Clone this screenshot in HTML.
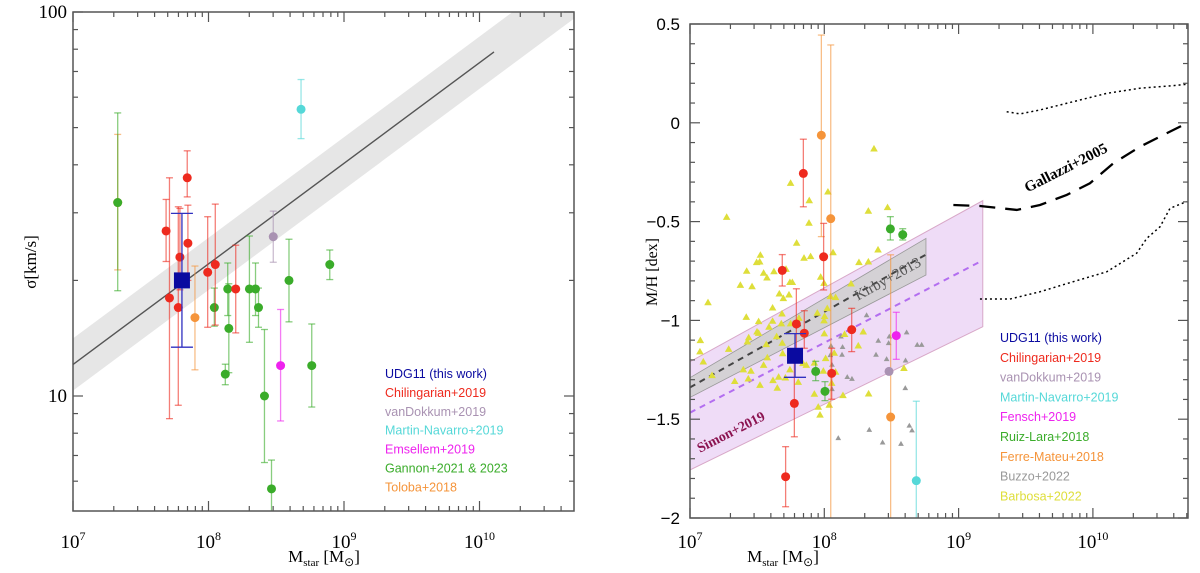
<!DOCTYPE html>
<html><head><meta charset="utf-8">
<style>
html,body{margin:0;padding:0;background:#fff;}
svg{display:block;}
.lg{font-family:"Liberation Sans",sans-serif;font-size:12.5px;}
.sr{font-family:"Liberation Serif",serif;}
.ss{font-family:"Liberation Sans",sans-serif;}
</style></head>
<body>
<svg id="fig" width="1200" height="573" viewBox="0 0 1200 573" xmlns="http://www.w3.org/2000/svg"></svg>
<script>
// ---------- LEFT PANEL DATA (log10 Mstar, sigma km/s) ----------
const lRedM=[7.687,7.712,7.777,7.789,7.843,7.848,7.994,8.05,8.201];
const lRedS=[26.9,18.0,17.0,23.0,37.0,25.0,21.0,22.0,19.0];
const lRedHi=[32.5,37.0,31.1,30.8,43.5,31.4,29.3,31.6,24.7];
const lRedLo=[22.4,8.73,9.46,18.9,33.0,20.0,15.1,15.3,14.6];
const lGreenM=[7.33,8.043,8.142,8.15,8.124,8.302,8.347,8.369,8.413,8.465,8.594,8.762,8.895];
const lGreenS=[31.9,17.0,19.0,15.0,11.4,19.0,19.0,17.0,10.0,5.73,20.0,12.0,22.0];
const lGreenHi=[54.6,19.1,22.2,19.6,12.1,26.1,22.2,19.1,14.9,6.81,25.6,15.4,24.0];
const lGreenLo=[18.8,15.2,16.2,11.5,10.7,13.8,16.2,15.1,6.71,4.48,15.6,9.36,20.1];
const lOrangeM=[7.9,7.33];
const lOrangeS=[16.0,31.9];
const lOrangeHi=[21.8,48.0];
const lOrangeLo=[11.7,21.3];
const lPurpleM=[8.478], lPurpleS=[26.0], lPurpleHi=[30.3], lPurpleLo=[22.3];
const lCyanM=[8.683], lCyanS=[55.8], lCyanHi=[66.7], lCyanLo=[46.8];
const lMagM=[8.532], lMagS=[12.0], lMagHi=[16.8], lMagLo=[8.61];
const lUdgM=[7.804], lUdgS=[20.0], lUdgHi=[29.9], lUdgLo=[13.4];
const lRelation=[1.082,0.262,0.068,10.107]; // intercept at logM=7, slope, band half-width, end logM
const lXTicks=["7","8","9","10"];
const lYTicks=[10,100];
// ---------- RIGHT PANEL DATA (log10 Mstar, [M/H]) ----------
const rRedM=[7.844,7.995,7.687,7.792,7.851,8.204,8.055,7.777,7.712];
const rRedV=[-0.256,-0.678,-0.747,-1.018,-1.065,-1.047,-1.268,-1.420,-1.791];
const rRedHi=[-0.083,-0.509,-0.667,-0.840,-0.951,-0.939,-1.141,-1.200,-1.639];
const rRedLo=[-0.425,-0.846,-0.826,-1.2,-1.141,-1.158,-1.399,-1.589,-1.943];
const rGreenM=[8.492,8.584,7.936,8.005];
const rGreenV=[-0.537,-0.566,-1.258,-1.359];
const rGreenHi=[-0.475,-0.536,-1.207,-1.310];
const rGreenLo=[-0.593,-0.593,-1.305,-1.406];
const rOrangeM=[7.978,8.048,8.494];
const rOrangeV=[-0.063,-0.485,-1.489];
const rOrangeHi=[0.444,0.394,-0.668];
const rOrangeLo=[-0.576,-2.1,-2.1];
const rMagM=[8.536], rMagV=[-1.077], rMagHi=[-0.959], rMagLo=[-1.197];
const rPurpleM=[8.482], rPurpleV=[-1.258];
const rCyanM=[8.685], rCyanV=[-1.811], rCyanHi=[-1.409], rCyanLo=[-2.1];
const rUdgM=[7.782], rUdgV=[-1.179], rUdgHi=[-1.067], rUdgLo=[-1.288];
const rYellowM=[8.370,7.749,8.027,7.888,7.273,7.886,8.328,8.471,7.794,7.849,7.898,7.524,7.496,7.519,8.065,8.400,8.258,8.328,7.422,7.548,7.573,7.625,7.715,7.973,7.998,7.744,7.762,7.375,7.462,8.199,7.665,7.695,7.737,7.134,8.045,8.084,8.022,7.615,7.685,7.811,8.002,7.998,7.419,7.511,7.615,7.680,7.749,7.948,7.588,7.499,7.511,7.437,7.427,7.645,8.000,8.151,8.290,7.077,7.288,7.074,7.099,7.568,7.687,7.777,8.010,7.841,7.576,7.690,7.866,7.926,8.074,8.084,7.397,7.454,7.548,7.744,7.164,7.333,7.434,7.521,7.618,7.660,7.710,7.650,7.806,7.993,8.055,8.253,7.926,8.139,8.330,7.955,7.968,8.037,8.593];
const rYellowV=[-0.132,-0.306,-0.350,-0.394,-0.478,-0.508,-0.447,-0.429,-0.609,-0.685,-0.677,-0.670,-0.707,-0.704,-0.657,-0.643,-0.707,-0.704,-0.751,-0.761,-0.785,-0.753,-0.741,-0.781,-0.812,-0.808,-0.808,-0.822,-0.829,-0.815,-0.866,-0.889,-0.871,-0.910,-0.879,-0.884,-0.940,-0.937,-0.967,-0.989,-0.980,-1.002,-0.984,-1.006,-1.004,-1.017,-1.017,-0.963,-1.034,-1.058,-1.065,-1.088,-1.109,-1.082,-1.068,-1.071,-1.058,-1.102,-1.146,-1.159,-1.210,-1.122,-1.115,-1.159,-1.193,-1.218,-1.189,-1.168,-1.227,-1.216,-1.166,-1.262,-1.250,-1.257,-1.227,-1.250,-1.279,-1.309,-1.296,-1.328,-1.304,-1.287,-1.291,-1.343,-1.313,-1.257,-1.318,-1.129,-1.373,-1.380,-1.372,-1.439,-1.479,-1.429,-1.243];
const rGrayM=[8.050,8.136,8.132,8.045,8.124,8.315,8.402,8.484,8.479,8.613,8.692,8.725,8.385,8.464,8.605,8.171,8.206,8.057,8.057,8.603,8.633,8.653,8.335,8.434,8.571,8.104];
const rGrayV=[-1.129,-1.135,-1.174,-1.176,-1.082,-0.974,-1.103,-1.082,-1.115,-1.061,-1.124,-1.124,-1.174,-1.196,-1.203,-1.287,-1.296,-1.225,-1.348,-1.343,-1.533,-1.557,-1.554,-1.618,-1.625,-1.596];
const simonBandM=[7,9.18,9.18,7];
const simonBandV=[-1.209,-0.394,-1.032,-1.757];
const simonLineM=[7,9.16], simonLineV=[-1.467,-0.703];
const kirbyBandM=[7,8.757,8.757,7];
const kirbyBandV=[-1.29,-0.585,-0.770,-1.39];
const kirbyLineM=[7,8.752], kirbyLineV=[-1.339,-0.669];
const gallMidM=[8.961,9.159,9.433,9.606,9.805,9.978,10.152,10.351,10.549,10.698];
const gallMidV=[-0.416,-0.421,-0.441,-0.416,-0.365,-0.306,-0.205,-0.121,-0.053,-0.003];
const gallUpM=[9.358,9.457,9.606,9.854,10.103,10.351,10.599,10.698];
const gallUpV=[0.056,0.045,0.065,0.107,0.149,0.175,0.188,0.195];
const gallLoM=[9.159,9.382,9.606,9.854,10.103,10.326,10.401,10.500,10.574,10.698];
const gallLoV=[-0.892,-0.892,-0.855,-0.804,-0.754,-0.660,-0.585,-0.526,-0.433,-0.399];
const rYTicks=["0.5","0","−0.5","−1","−1.5","−2"];
const rYVals=[0.5,0,-0.5,-1,-1.5,-2];

// ---------- helpers ----------
const NS="http://www.w3.org/2000/svg";
const fig=document.getElementById('fig');
function el(tag,attrs,parent){const e=document.createElementNS(NS,tag);for(const k in attrs)e.setAttribute(k,attrs[k]);(parent||fig).appendChild(e);return e;}
const L={x0:73,x1:574,y0:12,y1:511};
function lx(m){return 73+(m-7)*135.5;}
function ly(s){return 396-(Math.log10(s)-1)*384;}
const R={x0:690,x1:1188,y0:24,y1:518};
function rx(m){return 690+(m-7)*134.3;}
function ry(v){return 24+(0.5-v)*197.6;}

const defs=el('defs',{});
const cpL=el('clipPath',{id:'cpL'},defs);el('rect',{x:L.x0,y:L.y0,width:L.x1-L.x0,height:L.y1-L.y0},cpL);
const cpR=el('clipPath',{id:'cpR'},defs);el('rect',{x:R.x0,y:R.y0,width:R.x1-R.x0,height:R.y1-R.y0},cpR);

// ===== LEFT PANEL =====
const gL=el('g',{'clip-path':'url(#cpL)'});


{
 const [a,b,w,mEnd]=lRelation;
 const mA=6.8,mB=11;
 const yA=a+b*(mA-7),yB=a+b*(mB-7);
 const band=el('polygon',{points:`${lx(mA)},${ly(10**(yA+w))} ${lx(mB)},${ly(10**(yB+w))} ${lx(mB)},${ly(10**(yB-w))} ${lx(mA)},${ly(10**(yA-w))}`,fill:'#e6e6e6'},gL);
 
 
 const ln=el('line',{x1:lx(mA),y1:ly(10**yA),x2:lx(mEnd),y2:ly(10**(a+b*(mEnd-7))),stroke:'#555','stroke-width':1.4},gL);
 
 
}
function errL(parent,m,s,hi,lo,col,name){
 const g=el('g',{},parent);
 
 
 const x=lx(m);
 el('line',{x1:x,y1:ly(hi),x2:x,y2:ly(lo),stroke:col,'stroke-width':1.3,opacity:0.6},g);
 el('line',{x1:x-3.5,y1:ly(hi),x2:x+3.5,y2:ly(hi),stroke:col,'stroke-width':1.3,opacity:0.6},g);
 el('line',{x1:x-3.5,y1:ly(lo),x2:x+3.5,y2:ly(lo),stroke:col,'stroke-width':1.3,opacity:0.6},g);
 el('circle',{cx:x,cy:ly(s),r:4.5,fill:col},g);
}
lOrangeM.forEach((m,i)=>errL(gL,m,lOrangeS[i],lOrangeHi[i],lOrangeLo[i],'#f5943a','toloba-point'));
lGreenM.forEach((m,i)=>errL(gL,m,lGreenS[i],lGreenHi[i],lGreenLo[i],'#3aac2a','gannon-point'));
lRedM.forEach((m,i)=>errL(gL,m,lRedS[i],lRedHi[i],lRedLo[i],'#ee2a1e','chilingarian-point'));
lPurpleM.forEach((m,i)=>errL(gL,m,lPurpleS[i],lPurpleHi[i],lPurpleLo[i],'#a992b2','vandokkum-point'));
lCyanM.forEach((m,i)=>errL(gL,m,lCyanS[i],lCyanHi[i],lCyanLo[i],'#55d8d8','martin-navarro-point'));
lMagM.forEach((m,i)=>errL(gL,m,lMagS[i],lMagHi[i],lMagLo[i],'#ee22ee','emsellem-point'));
lUdgM.forEach((m,i)=>{
 const g=el('g',{},gL);
 
 
 const x=lx(m);
 el('line',{x1:x,y1:ly(lUdgHi[i]),x2:x,y2:ly(lUdgLo[i]),stroke:'#3030c0','stroke-width':1.3},g);
 el('line',{x1:x-11,y1:ly(lUdgHi[i]),x2:x+11,y2:ly(lUdgHi[i]),stroke:'#3030c0','stroke-width':1.3},g);
 el('line',{x1:x-11,y1:ly(lUdgLo[i]),x2:x+11,y2:ly(lUdgLo[i]),stroke:'#3030c0','stroke-width':1.3},g);
 el('rect',{x:x-8,y:ly(lUdgS[i])-8,width:16,height:16,fill:'#0a0aa0'},g);
});
const fL=el('rect',{x:L.x0,y:L.y0,width:L.x1-L.x0,height:L.y1-L.y0,fill:'none',stroke:'#555','stroke-width':1.5});


for(let d=7;d<=10;d++){for(let k=1;k<10;k++){const m=d+Math.log10(k);const x=lx(m);if(x>L.x1)continue;const len=k===1?10:5;
 el('line',{x1:x,y1:L.y1,x2:x,y2:L.y1-len,stroke:'#555','stroke-width':1.2});
 el('line',{x1:x,y1:L.y0,x2:x,y2:L.y0+len,stroke:'#555','stroke-width':1.2});}}
for(let v=5;v<=100;v+=(v<10?1:10)){const y=ly(v);if(y<L.y0-0.5||y>L.y1)continue;const len=(v===10||v===100)?10:5;
 el('line',{x1:L.x0,y1:y,x2:L.x0+len,y2:y,stroke:'#555','stroke-width':1.2});
 el('line',{x1:L.x1,y1:y,x2:L.x1-len,y2:y,stroke:'#555','stroke-width':1.2});}
lXTicks.forEach(t=>{const tx=el('text',{x:lx(+t),y:548,'text-anchor':'middle',class:'sr','font-size':19});
 
 
 tx.innerHTML=`10<tspan dy="-8" font-size="12">${t}</tspan>`;});
lYTicks.forEach(t=>{const tx=el('text',{x:L.x0-6,y:ly(t)+6,'text-anchor':'end',class:'sr','font-size':19});
 
 
 tx.textContent=t;});
{
 const t=el('text',{x:324,y:562,'text-anchor':'middle',class:'sr','font-size':17});
 
 
 t.innerHTML='M<tspan dy="4" font-size="11">star</tspan><tspan dy="-4"> [M</tspan><tspan dy="4" font-size="12">⊙</tspan><tspan dy="-4">]</tspan>';
 const t2=el('text',{x:0,y:0,'text-anchor':'middle',class:'sr','font-size':17,transform:'translate(36,262) rotate(-90)'});
 
 
 t2.textContent='σ[km/s]';
}
const lLegT=["UDG11 (this work)","Chilingarian+2019","vanDokkum+2019","Martin-Navarro+2019","Emsellem+2019","Gannon+2021 & 2023","Toloba+2018"];
const lLegC=['#0a0aa0','#ee2a1e','#a992b2','#55d8d8','#ee22ee','#3aac2a','#f5943a'];
lLegT.forEach((s,i)=>{const t=el('text',{x:385,y:378+i*18.9,fill:lLegC[i],class:'lg'});
 
 
 t.textContent=s;});

// ===== RIGHT PANEL =====
const gR=el('g',{'clip-path':'url(#cpR)'});


function pts(M,V){return M.map((m,i)=>rx(m)+','+ry(V[i])).join(' ');}
{
 const sb=el('polygon',{points:pts(simonBandM,simonBandV),fill:'#efdcf7',stroke:'#d8a8c8','stroke-width':1},gR);
 
 
 const kb=el('polygon',{points:pts(kirbyBandM,kirbyBandV),fill:'#cfcfcf',stroke:'#999','stroke-width':0.8,'fill-opacity':0.85},gR);
 
 
 const sl=el('polyline',{points:pts(simonLineM,simonLineV),fill:'none',stroke:'#b36ef0','stroke-width':2,'stroke-dasharray':'6,5'},gR);
 
 
 const kl=el('polyline',{points:pts(kirbyLineM,kirbyLineV),fill:'none',stroke:'#444','stroke-width':2,'stroke-dasharray':'6,5'},gR);
 
 
 const gm=el('polyline',{points:pts(gallMidM,gallMidV),fill:'none',stroke:'#000','stroke-width':2.3,'stroke-dasharray':'16,10'},gR);
 
 
 const gu=el('polyline',{points:pts(gallUpM,gallUpV),fill:'none',stroke:'#000','stroke-width':1.5,'stroke-dasharray':'2,3'},gR);
 
 
 const gl=el('polyline',{points:pts(gallLoM,gallLoV),fill:'none',stroke:'#000','stroke-width':1.5,'stroke-dasharray':'2,3'},gR);
 
 
}
function tri(m,v,col,s,name){const x=rx(m),y=ry(v);
 const p=el('polygon',{points:`${x},${y-s} ${x-s*0.95},${y+s*0.65} ${x+s*0.95},${y+s*0.65}`,fill:col},gR);
 
 }
rGrayM.forEach((m,i)=>tri(m,rGrayV[i],'#999',3,'buzzo-point'));
rYellowM.forEach((m,i)=>tri(m,rYellowV[i],'#dede3a',4,'barbosa-point'));
function errR(m,v,hi,lo,col,name){
 const g=el('g',{},gR);
 
 
 const x=rx(m);
 if(hi!==null){
 el('line',{x1:x,y1:ry(hi),x2:x,y2:ry(lo),stroke:col,'stroke-width':1.3,opacity:0.6},g);
 el('line',{x1:x-3.5,y1:ry(hi),x2:x+3.5,y2:ry(hi),stroke:col,'stroke-width':1.3,opacity:0.6},g);
 el('line',{x1:x-3.5,y1:ry(lo),x2:x+3.5,y2:ry(lo),stroke:col,'stroke-width':1.3,opacity:0.6},g);}
 el('circle',{cx:x,cy:ry(v),r:4.5,fill:col},g);
}
rOrangeM.forEach((m,i)=>errR(m,rOrangeV[i],rOrangeHi[i],rOrangeLo[i],'#f5943a','ferre-mateu-point'));
rRedM.forEach((m,i)=>errR(m,rRedV[i],rRedHi[i],rRedLo[i],'#ee2a1e','chilingarian-point'));
rGreenM.forEach((m,i)=>errR(m,rGreenV[i],rGreenHi[i],rGreenLo[i],'#3aac2a','ruiz-lara-point'));
rMagM.forEach((m,i)=>errR(m,rMagV[i],rMagHi[i],rMagLo[i],'#ee22ee','fensch-point'));
rPurpleM.forEach((m,i)=>errR(m,rPurpleV[i],null,null,'#a992b2','vandokkum-point'));
rCyanM.forEach((m,i)=>errR(m,rCyanV[i],rCyanHi[i],rCyanLo[i],'#55d8d8','martin-navarro-point'));
rUdgM.forEach((m,i)=>{
 const g=el('g',{},gR);
 
 
 const x=rx(m);
 el('line',{x1:x,y1:ry(rUdgHi[i]),x2:x,y2:ry(rUdgLo[i]),stroke:'#3030c0','stroke-width':1.3},g);
 el('line',{x1:x-11,y1:ry(rUdgHi[i]),x2:x+11,y2:ry(rUdgHi[i]),stroke:'#3030c0','stroke-width':1.3},g);
 el('line',{x1:x-11,y1:ry(rUdgLo[i]),x2:x+11,y2:ry(rUdgLo[i]),stroke:'#3030c0','stroke-width':1.3},g);
 el('rect',{x:x-8,y:ry(rUdgV[i])-8,width:16,height:16,fill:'#0a0aa0'},g);
});
{
 const k=el('text',{x:0,y:0,'text-anchor':'middle',class:'sr','font-size':15,fill:'#555',transform:'translate(890,283) rotate(-29)'});
 
 
 k.textContent='Kirby+2013';
 const s=el('text',{x:0,y:0,'text-anchor':'middle',class:'sr','font-size':14,'font-weight':'bold',fill:'#8b1350',transform:'translate(733,436) rotate(-27)'});
 
 
 s.textContent='Simon+2019';
 const g=el('text',{x:0,y:0,'text-anchor':'middle',class:'sr','font-size':15,'font-weight':'bold',fill:'#000',transform:'translate(1068,172) rotate(-27)'});
 
 
 g.textContent='Gallazzi+2005';
}
const fR=el('rect',{x:R.x0,y:R.y0,width:R.x1-R.x0,height:R.y1-R.y0,fill:'none',stroke:'#555','stroke-width':1.5});


for(let d=7;d<=10;d++){for(let k=1;k<10;k++){const m=d+Math.log10(k);const x=rx(m);if(x>R.x1)continue;const len=k===1?10:5;
 el('line',{x1:x,y1:R.y1,x2:x,y2:R.y1-len,stroke:'#555','stroke-width':1.2});
 el('line',{x1:x,y1:R.y0,x2:x,y2:R.y0+len,stroke:'#555','stroke-width':1.2});}}
for(let i=0;i<=25;i++){const v=0.5-i*0.1;const y=ry(v);const len=(i%5===0)?10:5;
 el('line',{x1:R.x0,y1:y,x2:R.x0+len,y2:y,stroke:'#555','stroke-width':1.2});
 el('line',{x1:R.x1,y1:y,x2:R.x1-len,y2:y,stroke:'#555','stroke-width':1.2});}
lXTicks.forEach(t=>{const tx=el('text',{x:rx(+t),y:548,'text-anchor':'middle',class:'sr','font-size':19});
 
 
 tx.innerHTML=`10<tspan dy="-8" font-size="12">${t}</tspan>`;});
rYTicks.forEach((t,i)=>{const tx=el('text',{x:R.x0-10,y:ry(rYVals[i])+6,'text-anchor':'end',class:'ss','font-size':17});
 
 
 tx.textContent=t;});
{
 const t=el('text',{x:783,y:562,'text-anchor':'middle',class:'sr','font-size':17});
 
 
 t.innerHTML='M<tspan dy="4" font-size="11">star</tspan><tspan dy="-4"> [M</tspan><tspan dy="4" font-size="12">⊙</tspan><tspan dy="-4">]</tspan>';
 const t2=el('text',{x:0,y:0,'text-anchor':'middle',class:'sr','font-size':16,transform:'translate(657,272) rotate(-90)'});
 
 
 t2.textContent='M/H [dex]';
}
const rLegT=["UDG11 (this work)","Chilingarian+2019","vanDokkum+2019","Martin-Navarro+2019","Fensch+2019","Ruiz-Lara+2018","Ferre-Mateu+2018","Buzzo+2022","Barbosa+2022"];
const rLegC=['#0a0aa0','#ee2a1e','#a992b2','#55d8d8','#ee22ee','#3aac2a','#f5943a','#999','#dede3a'];
rLegT.forEach((s,i)=>{const t=el('text',{x:1000,y:342+i*19.8,fill:rLegC[i],class:'lg'});
 
 
 t.textContent=s;});
</script>
</body></html>
